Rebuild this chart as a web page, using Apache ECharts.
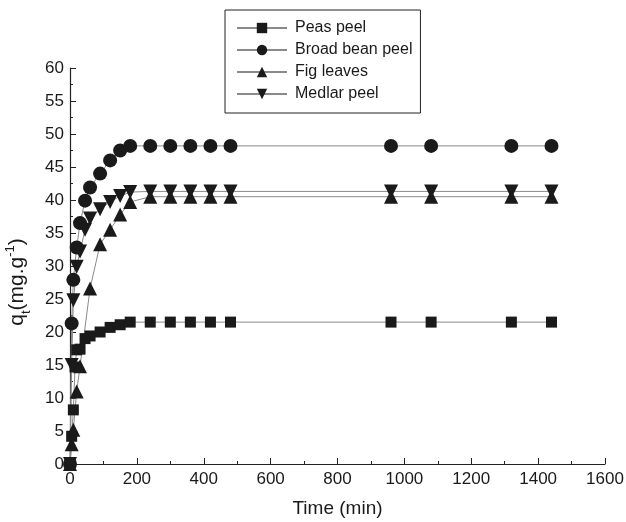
<!DOCTYPE html>
<html>
<head>
<meta charset="utf-8">
<script src="https://cdn.jsdelivr.net/npm/echarts@6/dist/echarts.min.js"></script>
<style>
  html, body { margin: 0; padding: 0; background: #fff; }
  #chart { width: 626px; height: 522px; }
</style>
</head>
<body>
<div id="chart"></div>
<script>
// Adsorption kinetics: uptake q_t versus contact time
const seriesNames = ['Peas peel', 'Broad bean peel', 'Fig leaves', 'Medlar peel'];

const timePeas = [0, 5, 10, 15, 20, 30, 45, 60, 90, 120, 150, 180, 240, 300, 360, 420, 480, 960, 1080, 1320, 1440];
const qPeas    = [0, 4.2, 8.2, 14.7, 17.3, 17.4, 19.0, 19.4, 20.0, 20.7, 21.1, 21.5, 21.5, 21.5, 21.5, 21.5, 21.5, 21.5, 21.5, 21.5, 21.5];

const timeBroad = [0, 5, 10, 20, 30, 45, 60, 90, 120, 150, 180, 240, 300, 360, 420, 480, 960, 1080, 1320, 1440];
const qBroad    = [0, 21.3, 27.9, 32.8, 36.5, 39.9, 41.9, 44.0, 46.0, 47.5, 48.2, 48.2, 48.2, 48.2, 48.2, 48.2, 48.2, 48.2, 48.2, 48.2];

const timeFig = [0, 5, 10, 20, 30, 60, 90, 120, 150, 180, 240, 300, 360, 420, 480, 960, 1080, 1320, 1440];
const qFig    = [0, 3.0, 5.2, 11.0, 14.8, 26.6, 33.3, 35.5, 37.8, 39.7, 40.5, 40.5, 40.5, 40.5, 40.5, 40.5, 40.5, 40.5, 40.5];

const timeMedlar = [0, 5, 10, 20, 30, 45, 60, 90, 120, 150, 180, 240, 300, 360, 420, 480, 960, 1080, 1320, 1440];
const qMedlar    = [0, 15.0, 24.8, 29.9, 32.2, 35.5, 37.2, 38.6, 39.7, 40.6, 41.2, 41.3, 41.3, 41.3, 41.3, 41.3, 41.3, 41.3, 41.3, 41.3];

const xTicks = { min: 0, max: 1600, interval: 200 };
const yTicks = { min: 0, max: 60, interval: 5 };

const pair = (t, q) => t.map((v, i) => [v, q[i]]);

const FONT = '"Liberation Sans", Arial, Helvetica, sans-serif';

function makeSeries(name, data, symbol, size, rotate) {
  return {
    name: name,
    type: 'line',
    data: data,
    symbol: symbol,
    symbolSize: size,
    symbolRotate: rotate || 0,
    showSymbol: true,
    animation: false,
    itemStyle: { color: '#1a1a1a' },
    lineStyle: { color: '#8a8a8a', width: 1 },
    emphasis: { disabled: true }
  };
}

const chart = echarts.init(document.getElementById('chart'), null, { renderer: 'canvas' });

chart.setOption({
  backgroundColor: '#ffffff',
  animation: false,
  grid: { left: 70, right: 21, top: 68, bottom: 58, containLabel: false, outerBoundsMode: 'none' },
  legend: {
    orient: 'vertical',
    left: 225,
    top: 10,
    padding: [10, 8, 11, 11],
    itemGap: 6,
    itemWidth: 50,
    itemHeight: 13,
    borderColor: '#222',
    borderWidth: 1,
    textStyle: { fontFamily: FONT, fontSize: 16, color: '#1a1a1a', padding: [0, 0, 0, 3] },
    data: seriesNames
  },
  xAxis: {
    type: 'value',
    min: xTicks.min, max: xTicks.max, interval: xTicks.interval,
    name: 'Time (min)',
    nameLocation: 'middle',
    nameGap: 35,
    nameTextStyle: { fontFamily: FONT, fontSize: 19, color: '#1a1a1a' },
    axisLine: { show: true, lineStyle: { color: '#222', width: 1.2 } },
    axisTick: { show: true, inside: true, length: 6, lineStyle: { color: '#222' } },
    minorTick: { show: true, splitNumber: 2, length: 3, lineStyle: { color: '#222' } },
    axisLabel: { fontFamily: FONT, fontSize: 17, color: '#1a1a1a', margin: 7, formatter: v => String(v) },
    splitLine: { show: false }
  },
  yAxis: {
    type: 'value',
    min: yTicks.min, max: yTicks.max, interval: yTicks.interval,
    name: '{m|q}{sub|t}{m|(mg.g}{sup|-1}{m|)}',
    nameLocation: 'middle',
    nameGap: 40,
    nameRotate: 90,
    nameTextStyle: {
      fontFamily: FONT, fontSize: 21, color: '#1a1a1a',
      padding: [0, 32, 0, 0],
      rich: {
        m: { fontFamily: FONT, fontSize: 21, color: '#1a1a1a', lineHeight: 26 },
        sub: { fontFamily: FONT, fontSize: 13, color: '#1a1a1a', lineHeight: 26, verticalAlign: 'bottom', padding: [0, 0, -3, 0] },
        sup: { fontFamily: FONT, fontSize: 13, color: '#1a1a1a', lineHeight: 26, verticalAlign: 'top', padding: [0, 0, 9, 0] }
      }
    },
    axisLine: { show: true, lineStyle: { color: '#222', width: 1.2 } },
    axisTick: { show: true, inside: true, length: 6, lineStyle: { color: '#222' } },
    minorTick: { show: true, splitNumber: 2, length: 3, lineStyle: { color: '#222' } },
    axisLabel: { fontFamily: FONT, fontSize: 17, color: '#1a1a1a', margin: 6, formatter: v => String(v) },
    splitLine: { show: false }
  },
  series: [
    makeSeries(seriesNames[0], pair(timePeas, qPeas), 'rect', 11),
    makeSeries(seriesNames[1], pair(timeBroad, qBroad), 'circle', 14),
    makeSeries(seriesNames[2], pair(timeFig, qFig), 'triangle', 14),
    makeSeries(seriesNames[3], pair(timeMedlar, qMedlar), 'triangle', 14, 180)
  ]
});
</script>
</body>
</html>
